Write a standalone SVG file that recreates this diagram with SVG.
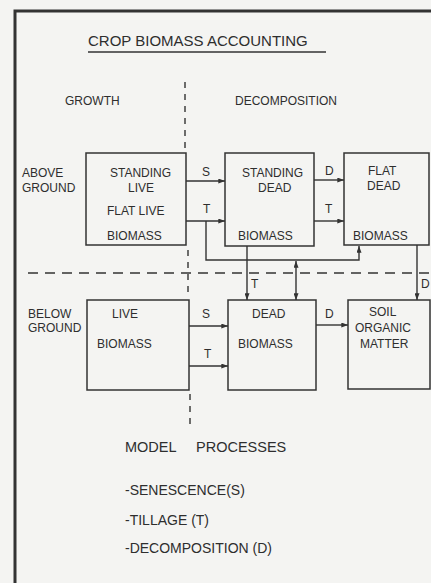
<svg xmlns="http://www.w3.org/2000/svg" width="431" height="583" viewBox="0 0 431 583">
<style>
.t{font-family:"Liberation Sans",Arial,sans-serif;fill:#2e2e2e;font-size:12px}
.box{fill:none;stroke:#333;stroke-width:1.5}
.c{fill:none;stroke:#333;stroke-width:1.4}
.dash{fill:none;stroke:#333;stroke-width:1.4}
</style>
<defs>
<marker id="ah" viewBox="0 0 8 6" refX="8" refY="3" markerWidth="7" markerHeight="5" markerUnits="userSpaceOnUse" orient="auto-start-reverse">
<path d="M0,0 L8,3 L0,6 Z" fill="#333"/>
</marker>
</defs>
<rect width="431" height="583" fill="#f4f4f2"/>
<path d="M15,583 V11 H431" fill="none" stroke="#333" stroke-width="3"/>
<g id="title">
<text class="t" x="88" y="46" style="font-size:15px">CROP BIOMASS ACCOUNTING</text>
<line x1="88" y1="52" x2="326" y2="52" stroke="#333" stroke-width="1.3"/>
</g>
<g id="dividers">
<path class="dash" d="M185,82 V150" stroke-dasharray="6 6"/>
<path class="dash" d="M188,250 V298" stroke-dasharray="6 6"/>
<path class="dash" d="M190,394 V426" stroke-dasharray="6 6"/>
<path class="dash" d="M28,273 H431" stroke-dasharray="10 7"/>
</g>
<g id="headings">
<text class="t" x="65" y="105">GROWTH</text>
<text class="t" x="235" y="105">DECOMPOSITION</text>
<text class="t" x="22" y="177">ABOVE</text>
<text class="t" x="22" y="192">GROUND</text>
<text class="t" x="28" y="318">BELOW</text>
<text class="t" x="28" y="332">GROUND</text>
</g>
<g id="standing-live">
<rect class="box" x="86" y="153" width="100" height="92"/>
<text class="t" x="110" y="177">STANDING</text>
<text class="t" x="128" y="192">LIVE</text>
<text class="t" x="107" y="215">FLAT LIVE</text>
<text class="t" x="107" y="240">BIOMASS</text>
</g>
<g id="standing-dead">
<rect class="box" x="225" y="153" width="89" height="93"/>
<text class="t" x="242" y="177">STANDING</text>
<text class="t" x="258" y="192">DEAD</text>
<text class="t" x="238" y="240">BIOMASS</text>
</g>
<g id="flat-dead">
<rect class="box" x="344" y="153" width="85" height="92"/>
<text class="t" x="368" y="175">FLAT</text>
<text class="t" x="367" y="190">DEAD</text>
<text class="t" x="353" y="240">BIOMASS</text>
</g>
<g id="live-biomass">
<rect class="box" x="87" y="300" width="102" height="90"/>
<text class="t" x="112" y="318">LIVE</text>
<text class="t" x="97" y="348">BIOMASS</text>
</g>
<g id="dead-biomass">
<rect class="box" x="228" y="300" width="88" height="90"/>
<text class="t" x="252" y="318">DEAD</text>
<text class="t" x="238" y="348">BIOMASS</text>
</g>
<g id="soil-organic-matter">
<rect class="box" x="348" y="300" width="82" height="89"/>
<text class="t" x="369" y="316">SOIL</text>
<text class="t" x="355" y="332">ORGANIC</text>
<text class="t" x="360" y="348">MATTER</text>
</g>
<g id="connectors">
<path class="c" d="M186,181 H225" marker-end="url(#ah)"/>
<path class="c" d="M186,221 H225" marker-end="url(#ah)"/>
<path class="c" d="M314,180 H344" marker-end="url(#ah)"/>
<path class="c" d="M314,221 H344" marker-end="url(#ah)"/>
<path class="c" d="M206,221 V260 H359 V246" marker-end="url(#ah)"/>
<path class="c" d="M247,246 V300" marker-end="url(#ah)"/>
<path class="c" d="M296,261 V300" marker-start="url(#ah)" marker-end="url(#ah)"/>
<path class="c" d="M417,245 V300" marker-end="url(#ah)"/>
<path class="c" d="M189,326 H228" marker-end="url(#ah)"/>
<path class="c" d="M189,366 H228" marker-end="url(#ah)"/>
<path class="c" d="M316,325 H348" marker-end="url(#ah)"/>
<text class="t" x="202" y="176">S</text>
<text class="t" x="203" y="213">T</text>
<text class="t" x="325" y="175">D</text>
<text class="t" x="325" y="213">T</text>
<text class="t" x="251" y="288">T</text>
<text class="t" x="421" y="288">D</text>
<text class="t" x="202" y="318">S</text>
<text class="t" x="204" y="358">T</text>
<text class="t" x="325" y="318">D</text>
</g>
<g id="legend">
<text class="t" x="125" y="452" style="font-size:14.5px">MODEL</text>
<text class="t" x="196" y="452" style="font-size:14.5px">PROCESSES</text>
<text class="t" x="125" y="495" style="font-size:14px">-SENESCENCE(S)</text>
<text class="t" x="125" y="525" style="font-size:14px">-TILLAGE (T)</text>
<text class="t" x="125" y="553" style="font-size:14px">-DECOMPOSITION (D)</text>
</g>
</svg>
